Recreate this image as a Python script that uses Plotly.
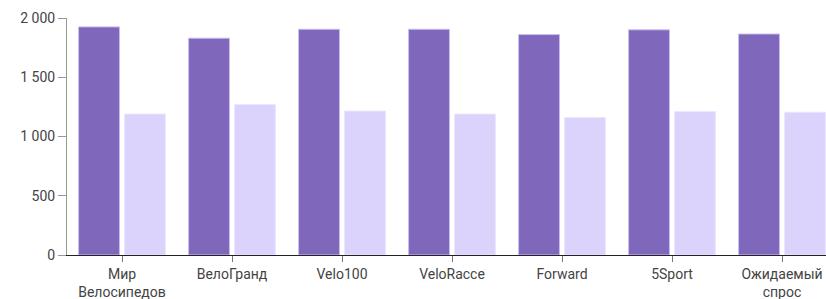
import plotly.graph_objects as go

categories = ["Мир<br>Велосипедов", "ВелоГранд", "Velo100", "VeloRacce", "Forward", "5Sport", "Ожидаемый<br>спрос"]
series_a = [1925, 1830, 1905, 1905, 1860, 1900, 1865]
series_b = [1190, 1270, 1215, 1190, 1160, 1210, 1205]
y_ticks = [0, 500, 1000, 1500, 2000]

fig = go.Figure()
fig.add_trace(go.Bar(x=categories, y=series_a, marker=dict(color="#7f67bb", line=dict(color="#c9bcef", width=1)), showlegend=False))
fig.add_trace(go.Bar(x=categories, y=series_b, marker=dict(color="#dcd3fd", line=dict(color="#ece7fe", width=1)), showlegend=False))

fig.update_layout(
    width=826, height=299,
    margin=dict(l=67, r=0, t=18, b=44),
    paper_bgcolor="white", plot_bgcolor="white",
    barmode="group", bargap=0.164, bargroupgap=0.11,
    separators=", ",
    font=dict(family="Roboto", size=14, color="#444"),
)
fig.update_xaxes(
    type="category", range=[-0.5, 6.4],
    showline=True, linecolor="#222", linewidth=1,
    ticks="outside", ticklen=6, tickcolor="#777",
    showgrid=False, tickfont=dict(size=14, color="#444"), automargin=False,
)
fig.update_yaxes(
    range=[0, 2000], tickvals=y_ticks, tickformat=",d",
    showline=True, linecolor="#999", linewidth=1,
    ticks="outside", ticklen=8, tickcolor="#999",
    showgrid=False, zeroline=False, tickfont=dict(size=14, color="#444"), automargin=False,
)
fig.write_html("out.html", config={"displayModeBar": False},
               post_script="document.body.style.margin='0';document.body.style.overflow='hidden';")
